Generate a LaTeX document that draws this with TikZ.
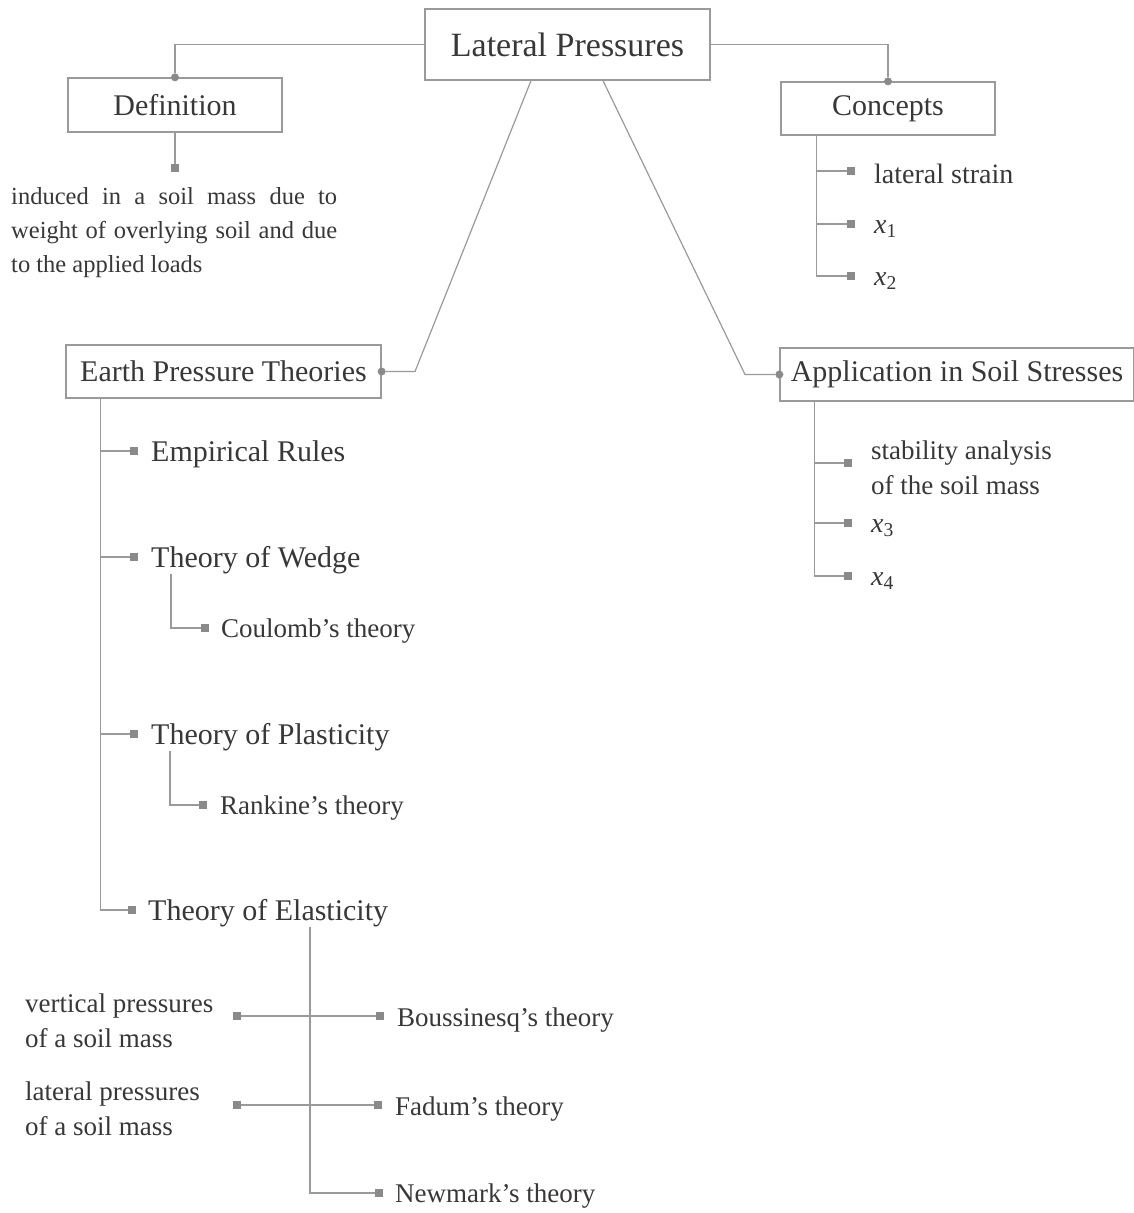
\documentclass[tikz,border=0pt]{standalone}
\usepackage{fontspec}
\setmainfont{Liberation Serif}
\usetikzlibrary{calc}
\definecolor{linec}{HTML}{9A9A9A}
\definecolor{textc}{HTML}{383838}
\definecolor{sqc}{HTML}{8A8A8A}
\newcommand\xs[1]{\textit{x}\textsubscript{#1}}
\begin{document}
\begin{tikzpicture}[x=1pt,y=-1pt,
  box/.style={draw=linec, line width=1.3pt, fill=white, text=textc, font=\fontsize{30}{36}\selectfont, inner sep=0pt, minimum height=53pt},
  leaf/.style={anchor=west, inner sep=0pt, yshift=-3pt, text=textc, font=\fontsize{28}{35}\selectfont},
  small/.style={anchor=west, inner sep=0pt, yshift=-3pt, text=textc, font=\fontsize{27}{35}\selectfont},
  sq/.style={fill=sqc, minimum size=8pt, inner sep=0pt},
  dot/.style={circle, fill=sqc, minimum size=8pt, inner sep=0pt},
  con/.style={draw=linec, line width=1.2pt}]
\fill[white] (0,0) rectangle (1134,1213);
\useasboundingbox (0,0) rectangle (1134,1213);

% main boxes
\node[box, minimum width=285pt, minimum height=71pt, font=\fontsize{34}{40}\selectfont] (lp) at (567.5,44.5) {Lateral Pressures};
\node[box, minimum width=214pt, minimum height=54pt] (def) at (175,105) {Definition};
\node[box, minimum width=214pt] (con) at (888,108.5) {Concepts};
\node[box, minimum width=315pt] (ept) at (223.5,371.5) {Earth Pressure Theories};
\node[box, minimum width=354pt] (app) at (957,374.5) {Application in Soil Stresses};

\node[dot] (ddef) at (def.north) {};
\node[dot] (dcon) at (con.north) {};
\node[dot] (dept) at (ept.east) {};
\node[dot] (dapp) at (app.west) {};

\draw[con] (lp.west) -| (ddef);
\draw[con] (lp.east) -| (dcon);
\coordinate (kl) at (415,371.5);
\coordinate (kr) at (745,374.5);
\draw[con] ($(lp.south)+(-36.5,0)$) -- (kl) -- (dept);
\draw[con] ($(lp.south)+(35.5,0)$) -- (kr) -- (dapp);

% definition
\node[sq] (sdef) at (175,168) {};
\draw[con] (def.south) -- (sdef);
\node[anchor=north west, text width=326pt, align=justify, inner sep=0pt, text=textc, font=\fontsize{24.5}{34}\selectfont] (dtext) at (11,187) {induced in a soil mass due to weight of overlying soil and due to the applied loads};

% concepts
\node[sq] (c1) at (851,171) {};
\node[sq] (c2) at (851,224) {};
\node[sq] (c3) at (851,276) {};
\node[leaf] (ct1) at (874,171) {lateral strain};
\node[leaf] (ct2) at (874,226) {\xs{1}};
\node[leaf] (ct3) at (874,278) {\xs{2}};
\foreach \c in {c1,c2,c3} \draw[con] ($(con.south west)+(36,0)$) |- (\c);

% application
\node[sq] (a1) at (848,463) {};
\node[sq] (a2) at (848,523) {};
\node[sq] (a3) at (848,576) {};
\node[leaf, align=left, font=\fontsize{27}{35}\selectfont] (at1) at (871,465) {stability analysis\\of the soil mass};
\node[leaf] (at2) at (871,525) {\xs{3}};
\node[leaf] (at3) at (871,578) {\xs{4}};
\foreach \c in {a1,a2,a3} \draw[con] ($(app.south west)+(35,0)$) |- (\c);

% earth pressure theories
\node[sq] (e1) at (134,451) {};
\node[sq] (e2) at (134,557) {};
\node[sq] (e3) at (134,734) {};
\node[sq] (e4) at (132,910) {};
\node[leaf, font=\fontsize{30}{36}\selectfont] (et1) at (151,451) {Empirical Rules};
\node[leaf, font=\fontsize{30}{36}\selectfont] (et2) at (151,557) {Theory of Wedge};
\node[leaf, font=\fontsize{30}{36}\selectfont] (et3) at (151,734) {Theory of Plasticity};
\node[leaf, font=\fontsize{30}{36}\selectfont] (et4) at (148,910) {Theory of Elasticity};
\foreach \c in {e1,e2,e3,e4} \draw[con] ($(ept.south west)+(35,0)$) |- (\c);

% wedge
\node[sq] (w1) at (205,628) {};
\node[small] (wt1) at (221,628) {Coulomb’s theory};
\draw[con] ($(et2.south west)+(20,0)$) |- (w1);

% plasticity
\node[sq] (p1) at (203,805) {};
\node[small] (pt1) at (220,805) {Rankine’s theory};
\draw[con] ($(et3.south west)+(19,0)$) |- (p1);

% elasticity
\node[sq] (n1) at (379,1193) {};
\node[small] (nt1) at (395,1193) {Newmark’s theory};
\draw[con] ($(et4.south west)+(162,0)$) |- (n1);

\node[sq] (bl) at (237,1016) {};
\node[sq] (br) at (380,1016) {};
\node[small] (bt) at (397,1017) {Boussinesq’s theory};
\node[small, align=left] (blt) at (25,1018) {vertical pressures\\of a soil mass};
\draw[con] (bl) -- (br);

\node[sq] (fl) at (237,1105) {};
\node[sq] (fr) at (378,1105) {};
\node[small] (ft) at (395,1106) {Fadum’s theory};
\node[small, align=left] (flt) at (25,1106) {lateral pressures\\of a soil mass};
\draw[con] (fl) -- (fr);
\end{tikzpicture}
\end{document}
